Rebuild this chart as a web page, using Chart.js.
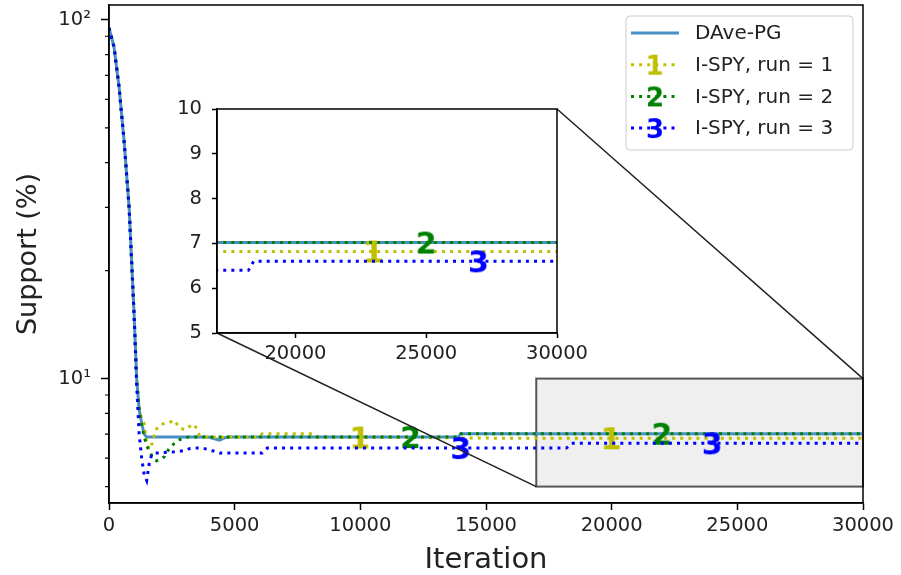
<!doctype html>
<html lang="en">
<head>
<meta charset="utf-8">
<title>Support vs iteration</title>
<style>
  html, body { margin: 0; padding: 0; background: #fff; overflow: hidden; }
  .chartBox { position: relative; width: 901px; height: 575px; }
  #mainChart { position: absolute; left: 0; top: 0; width: 901px; height: 575px; }
  #insetChart { position: absolute; left: 150px; top: 95px; width: 442px; height: 285px; }
</style>
</head>
<body>
<div class="chartBox">
  <canvas id="mainChart" width="901" height="575"></canvas>
  <canvas id="insetChart" width="442" height="285"></canvas>
</div>

<script src="https://cdn.jsdelivr.net/npm/chart.js@4"></script>
<script>
// iteration grid shared by every run
const iterations = [0, 200, 400, 600, 800, 1000, 1100, 1200, 1300, 1400,
  1500, 1600, 1700, 1800, 1900, 2000, 2200, 2400, 2600, 2800,
  3000, 3200, 3400, 3600, 3800, 4000, 4200, 4400, 4600, 4800,
  5200, 5600, 5900, 6100, 6300, 7000, 8100, 8300, 9000, 10000,
  11000, 12000, 13900, 14000, 16000, 18200, 18400, 20000, 22000, 23000,
  24000, 25000, 27000, 28000, 30000];

// support (%) per iteration
const davePG = [95, 84, 65, 46, 30, 15, 10, 8.2, 7.5, 7.0,
  6.87, 6.87, 6.87, 6.87, 6.87, 6.87, 6.87, 6.87, 6.87, 6.87,
  6.87, 6.87, 6.87, 6.87, 6.87, 6.86, 6.8, 6.74, 6.84, 6.87,
  6.87, 6.87, 6.87, 6.87, 6.87, 6.87, 6.87, 6.87, 6.87, 6.87,
  6.87, 6.87, 6.87, 7.02, 7.02, 7.02, 7.02, 7.02, 7.02, 7.02,
  7.02, 7.02, 7.02, 7.02, 7.02];
const ispyRun1 = [95, 84, 65, 46, 30, 15, 10, 8.3, 7.7, 7.5,
  6.6, 6.35, 6.55, 6.95, 7.25, 7.4, 7.5, 7.55, 7.65, 7.3,
  7.2, 7.35, 7.45, 6.95, 6.86, 6.86, 6.86, 6.86, 6.86, 6.86,
  6.86, 6.86, 6.86, 7.02, 7.02, 7.02, 7.02, 6.85, 6.85, 6.85,
  6.85, 6.85, 6.84, 6.83, 6.82, 6.82, 6.82, 6.82, 6.82, 6.82,
  6.82, 6.82, 6.82, 6.82, 6.82];
const ispyRun2 = [95, 84, 65, 46, 30, 15, 10, 8.2, 7.4, 6.9,
  6.5, 6.3, 6.1, 5.95, 5.9, 5.95, 6.05, 6.4, 6.6, 6.75,
  6.85, 6.87, 6.87, 6.87, 6.87, 6.87, 6.87, 6.87, 6.87, 6.87,
  6.87, 6.87, 6.87, 6.87, 6.87, 6.87, 6.87, 6.87, 6.87, 6.87,
  6.87, 6.87, 6.87, 7.02, 7.02, 7.02, 7.02, 7.02, 7.02, 7.02,
  7.02, 7.02, 7.02, 7.02, 7.02];
const ispyRun3 = [95, 84, 65, 46, 30, 15, 9.6, 7.0, 6.0, 5.4,
  5.2, 5.8, 6.15, 6.2, 6.2, 6.2, 6.22, 6.24, 6.25, 6.27,
  6.3, 6.38, 6.4, 6.4, 6.38, 6.33, 6.27, 6.2, 6.2, 6.2,
  6.2, 6.2, 6.2, 6.2, 6.4, 6.4, 6.4, 6.4, 6.4, 6.4,
  6.4, 6.4, 6.4, 6.4, 6.4, 6.4, 6.6, 6.6, 6.6, 6.6,
  6.6, 6.6, 6.6, 6.6, 6.6];

const seriesLabels = ['DAve-PG', 'I-SPY, run = 1', 'I-SPY, run = 2', 'I-SPY, run = 3'];
const seriesValues = [davePG, ispyRun1, ispyRun2, ispyRun3];
const seriesColors = ['#4a8fc4', '#bfbf00', '#008000', '#0000ff'];
const markerDigits = ['', '1', '2', '3'];

// iterations carrying a run-number marker (runs 1..3)
const mainMarks = [[10000, 20000], [12000, 22000], [14000, 24000]];
const insetMarks = [[23000], [25000], [27000]];

// ticks
const xTicksMain = [0, 5000, 10000, 15000, 20000, 25000, 30000];
const yMajorMain = [10, 100];
const yMinorMain = [5, 6, 7, 8, 9, 20, 30, 40, 50, 60, 70, 80, 90];
const xTicksInset = [20000, 25000, 30000];
const yTicksInset = [5, 6, 7, 8, 9, 10];

// zoomed window
const zoomX = [17000, 30000];
const zoomY = [5, 10];

Chart.defaults.font.family = '"DejaVu Sans", sans-serif';
Chart.defaults.color = '#222';
Chart.defaults.animation = false;

// digit used as a marker, drawn into a small canvas
function digitMarker(text, color, size) {
  const font = `bold ${size}px "DejaVu Sans"`;
  const probe = document.createElement('canvas').getContext('2d');
  probe.font = font;
  const m = probe.measureText(text);
  const c = document.createElement('canvas');
  c.width = Math.ceil(m.actualBoundingBoxLeft + m.actualBoundingBoxRight) + 2;
  c.height = Math.ceil(m.actualBoundingBoxAscent + m.actualBoundingBoxDescent) + 2;
  const g = c.getContext('2d');
  g.font = font;
  g.fillStyle = color;
  g.fillText(text, 1 + m.actualBoundingBoxLeft, 1 + m.actualBoundingBoxAscent);
  return c;
}

const plotMarkers = markerDigits.map((d, i) => d ? digitMarker(d, seriesColors[i], 30) : null);
const legendMarkers = markerDigits.map((d, i) => d ? digitMarker(d, seriesColors[i], 26) : null);

function buildDatasets(marks) {
  return seriesValues.map((vals, i) => ({
    label: seriesLabels[i],
    data: iterations.map((x, j) => ({ x, y: vals[j] })),
    borderColor: seriesColors[i],
    backgroundColor: seriesColors[i],
    borderWidth: 3,
    borderDash: i === 0 ? [] : [3, 5.1],
    fill: false,
    pointStyle: i === 0 ? 'circle' : plotMarkers[i],
    pointRadius: ctx => (i > 0 && ctx.raw && marks[i - 1].includes(ctx.raw.x)) ? 1 : 0,
    order: 3 - i
  }));
}

const axisLine = { color: '#000', width: 1.5 };

let insetChart = null;

// zoom box, connectors, frame, minor ticks and legend on the main axes
const mainDecor = {
  id: 'mainDecor',
  beforeDatasetsDraw(chart) {
    const { ctx, scales: { x, y } } = chart;
    const l = x.getPixelForValue(zoomX[0]), r = x.getPixelForValue(zoomX[1]);
    const t = y.getPixelForValue(zoomY[1]), b = y.getPixelForValue(zoomY[0]);
    ctx.save();
    ctx.fillStyle = '#efefef';
    ctx.fillRect(l, t, r - l, b - t);
    ctx.strokeStyle = '#555';
    ctx.lineWidth = 2;
    ctx.strokeRect(l, t, r - l, b - t);
    ctx.restore();
  },
  afterDatasetsDraw(chart) {
    if (!insetChart) return;
    const { ctx, scales: { x, y } } = chart;
    const ia = insetChart.chartArea;
    const ox = insetChart.canvas.offsetLeft, oy = insetChart.canvas.offsetTop;
    ctx.save();
    ctx.strokeStyle = '#222';
    ctx.lineWidth = 1.5;
    ctx.beginPath();
    ctx.moveTo(ox + ia.right, oy + ia.top);
    ctx.lineTo(x.getPixelForValue(zoomX[1]), y.getPixelForValue(zoomY[1]));
    ctx.moveTo(ox + ia.left, oy + ia.bottom);
    ctx.lineTo(x.getPixelForValue(zoomX[0]), y.getPixelForValue(zoomY[0]));
    ctx.stroke();
    ctx.restore();
  },
  afterDraw(chart) {
    const { ctx, chartArea: a, scales: { y } } = chart;
    ctx.save();
    ctx.strokeStyle = '#000';
    ctx.lineWidth = 1.5;
    ctx.strokeRect(a.left, a.top, a.right - a.left, a.bottom - a.top);
    ctx.lineWidth = 1.2;
    ctx.beginPath();
    yMinorMain.forEach(v => {
      const py = y.getPixelForValue(v);
      ctx.moveTo(a.left - 4, py);
      ctx.lineTo(a.left, py);
    });
    ctx.stroke();

    // legend
    const w = 227, h = 134;
    const lx = a.right - 10 - w, ly = a.top + 11;
    ctx.fillStyle = 'rgba(255,255,255,0.8)';
    ctx.strokeStyle = '#cccccc';
    ctx.lineWidth = 1;
    ctx.beginPath();
    ctx.roundRect(lx, ly, w, h, 4);
    ctx.fill();
    ctx.stroke();
    ctx.font = '20px "DejaVu Sans"';
    ctx.textBaseline = 'middle';
    seriesLabels.forEach((label, i) => {
      const ry = ly + 17 + i * 31.7;
      ctx.strokeStyle = seriesColors[i];
      ctx.lineWidth = 3;
      ctx.setLineDash(i === 0 ? [] : [3, 5.1]);
      ctx.beginPath();
      ctx.moveTo(lx + 5, ry);
      ctx.lineTo(lx + 53, ry);
      ctx.stroke();
      ctx.setLineDash([]);
      const img = legendMarkers[i];
      if (img) ctx.drawImage(img, lx + 29 - img.width / 2, ry - img.height / 2);
      ctx.fillStyle = '#222';
      ctx.fillText(label, lx + 69, ry + 1);
    });
    ctx.restore();
  }
};

const supers = { 1: '\u00b9', 2: '\u00b2' };

const mainChart = new Chart(document.getElementById('mainChart'), {
  type: 'line',
  data: { datasets: buildDatasets(mainMarks) },
  options: {
    responsive: false,
    events: [],
    layout: { padding: { left: 0, right: 38, top: 5, bottom: 0 } },
    plugins: { legend: { display: false }, tooltip: { enabled: false } },
    scales: {
      x: {
        type: 'linear',
        min: 0,
        max: 30000,
        afterBuildTicks: s => { s.ticks = xTicksMain.map(v => ({ value: v })); },
        afterFit: s => { s.height = 72; s.paddingLeft = 0; s.paddingRight = 0; },
        ticks: { font: { size: 19.5 }, padding: 4, maxRotation: 0, autoSkip: false, callback: v => String(v) },
        grid: { drawOnChartArea: false, tickLength: 7, tickWidth: 1.5, tickColor: '#000' },
        border: axisLine,
        title: { display: true, text: 'Iteration', font: { size: 29, lineHeight: 1 }, padding: { top: 0, bottom: 0 } }
      },
      y: {
        type: 'logarithmic',
        min: 4.5,
        max: 110,
        afterBuildTicks: s => { s.ticks = yMajorMain.map(v => ({ value: v })); },
        afterFit: s => { s.width = 109; s.paddingTop = 0; s.paddingBottom = 0; },
        ticks: { font: { size: 19.5 }, padding: 10, autoSkip: false, callback: v => '10' + supers[Math.round(Math.log10(v))] },
        grid: { drawOnChartArea: false, tickLength: 8, tickWidth: 1.5, tickColor: '#000' },
        border: axisLine,
        title: { display: true, text: 'Support (%)', font: { size: 27, lineHeight: 1.2 }, padding: { top: 13, bottom: 0 } }
      }
    }
  },
  plugins: [mainDecor]
});

// white face and frame of the inset axes
const insetDecor = {
  id: 'insetDecor',
  beforeDraw(chart) {
    const { ctx, chartArea: a } = chart;
    ctx.save();
    ctx.fillStyle = '#fff';
    ctx.fillRect(a.left, a.top, a.right - a.left, a.bottom - a.top);
    ctx.restore();
  },
  afterDraw(chart) {
    const { ctx, chartArea: a } = chart;
    ctx.save();
    ctx.strokeStyle = '#000';
    ctx.lineWidth = 1.5;
    ctx.strokeRect(a.left, a.top, a.right - a.left, a.bottom - a.top);
    ctx.restore();
  }
};

insetChart = new Chart(document.getElementById('insetChart'), {
  type: 'line',
  data: { datasets: buildDatasets(insetMarks) },
  options: {
    responsive: false,
    events: [],
    layout: { padding: { left: 0, right: 35, top: 14, bottom: 0 } },
    plugins: { legend: { display: false }, tooltip: { enabled: false } },
    scales: {
      x: {
        type: 'linear',
        min: zoomX[0],
        max: zoomX[1],
        afterBuildTicks: s => { s.ticks = xTicksInset.map(v => ({ value: v })); },
        afterFit: s => { s.height = 47; s.paddingLeft = 0; s.paddingRight = 0; },
        ticks: { font: { size: 19.5 }, padding: 4, maxRotation: 0, autoSkip: false, callback: v => String(v) },
        grid: { drawOnChartArea: false, tickLength: 5, tickWidth: 1.5, tickColor: '#000' },
        border: axisLine
      },
      y: {
        type: 'linear',
        min: zoomY[0],
        max: zoomY[1],
        afterBuildTicks: s => { s.ticks = yTicksInset.map(v => ({ value: v })); },
        afterFit: s => { s.width = 67; s.paddingTop = 0; s.paddingBottom = 0; },
        ticks: { font: { size: 19.5 }, padding: 10, autoSkip: false },
        grid: { drawOnChartArea: false, tickLength: 5, tickWidth: 1.5, tickColor: '#000' },
        border: axisLine
      }
    }
  },
  plugins: [insetDecor]
});

mainChart.draw();
</script>
</body>
</html>
